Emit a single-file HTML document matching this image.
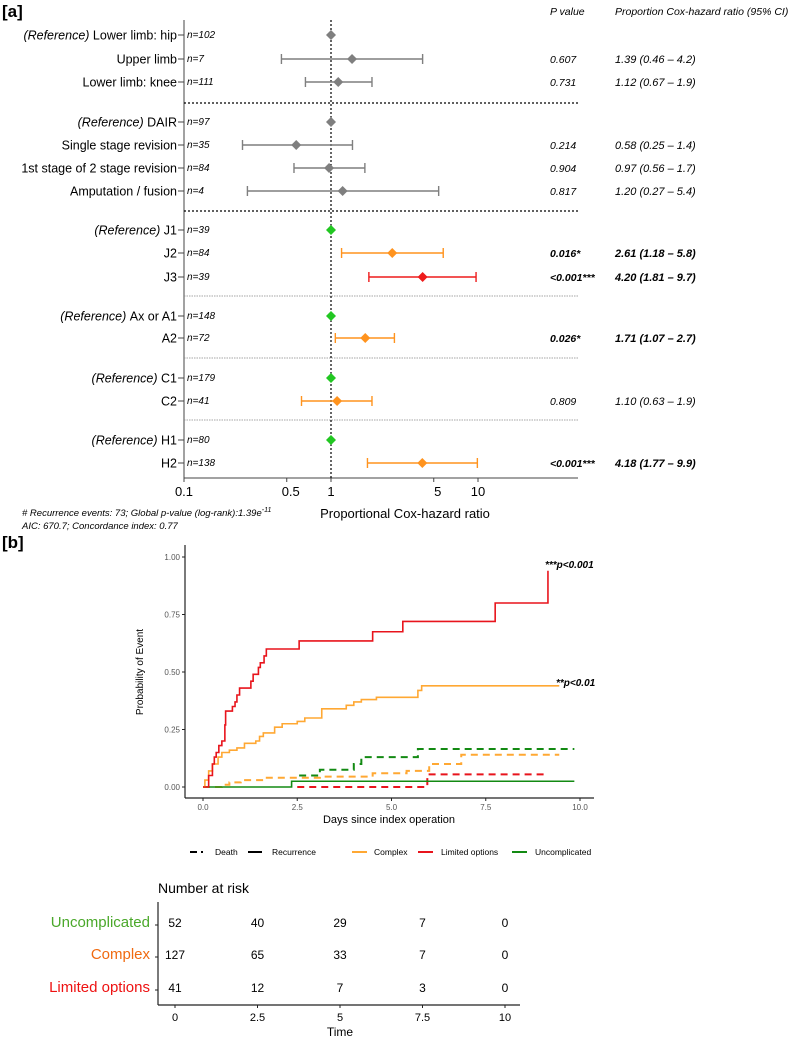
<!DOCTYPE html>
<html><head><meta charset="utf-8">
<style>
html,body{margin:0;padding:0;background:#fff;}
svg{display:block;font-family:"Liberation Sans",Arial,sans-serif;}
</style></head>
<body>
<svg id="fig" width="799" height="1041" viewBox="0 0 799 1041" xmlns="http://www.w3.org/2000/svg">
<text x="2" y="17" font-size="17" font-weight="bold">[a]</text>
<text x="2" y="548" font-size="17" font-weight="bold">[b]</text>
<g id="forest"></g>
<g id="km"></g>
<g id="risk"></g>
</svg>
<script>
// ---------- Forest plot data ----------
const fLabels = ["Lower limb: hip","Upper limb","Lower limb: knee","DAIR","Single stage revision","1st stage of 2 stage revision","Amputation / fusion","J1","J2","J3","Ax or A1","A2","C1","C2","H1","H2"];
const fIsRef = [1,0,0,1,0,0,0,1,0,0,1,0,1,0,1,0];
const fN = [102,7,111,97,35,84,4,39,84,39,148,72,179,41,80,138];
const fHR = [1,1.39,1.12,1,0.58,0.97,1.20,1,2.61,4.20,1,1.71,1,1.10,1,4.18];
const fLo = [null,0.46,0.67,null,0.25,0.56,0.27,null,1.18,1.81,null,1.07,null,0.63,null,1.77];
const fHi = [null,4.2,1.9,null,1.4,1.7,5.4,null,5.8,9.7,null,2.7,null,1.9,null,9.9];
const fP = ["","0.607","0.731","","0.214","0.904","0.817","","0.016*","<0.001***","","0.026*","","0.809","","<0.001***"];
const fCI = ["","1.39 (0.46 – 4.2)","1.12 (0.67 – 1.9)","","0.58 (0.25 – 1.4)","0.97 (0.56 – 1.7)","1.20 (0.27 – 5.4)","","2.61 (1.18 – 5.8)","4.20 (1.81 – 9.7)","","1.71 (1.07 – 2.7)","","1.10 (0.63 – 1.9)","","4.18 (1.77 – 9.9)"];
const fColor = ["g","g","g","g","g","g","g","G","o","r","G","o","G","o","G","o"];
const fBold = [0,0,0,0,0,0,0,0,1,1,0,1,0,0,0,1];
const fTicks = [0.1,0.5,1,5,10];
const fRowY = [35,59,82,122,145,168,191,230,253,277,316,338,378,401,440,463];
const fSeps = [{y:103,dot:true},{y:211,dot:true},{y:296,dot:false},{y:358,dot:false},{y:420,dot:false}];

const NS="http://www.w3.org/2000/svg";
function mk(parent,tag,attrs,txt){const e=document.createElementNS(NS,tag);for(const k in attrs)e.setAttribute(k,attrs[k]);if(txt!==undefined)e.textContent=txt;parent.appendChild(e);return e;}
const colMap={g:"#7f7f7f",G:"#22c722",o:"#ff931e",r:"#ee1c1c"};

(function(){
  const g=document.getElementById('forest');
  const x0=331, dec=147, axL=184, axR=578, axB=478, axT=20;
  const fx=v=>x0+Math.log10(v)*dec;
  let e;
  e=mk(g,'line',{x1:axL,y1:axT,x2:axL,y2:axB,stroke:'#444','stroke-width':1});
  
  e=mk(g,'line',{x1:axL,y1:axB,x2:axR,y2:axB,stroke:'#444','stroke-width':1});
  
  e=mk(g,'line',{x1:fx(1),y1:axT,x2:fx(1),y2:axB,stroke:'#000','stroke-width':1.2,'stroke-dasharray':'2,2'});
  
  fTicks.forEach(t=>{
    const x=(t===0.1)?axL:fx(t);
    mk(g,'line',{x1:x,y1:axB,x2:x,y2:axB+4,stroke:'#444'});
    e=mk(g,'text',{x:x+(t===0.5?4:(t===5?4:0)),y:axB+18,'font-size':13,'text-anchor':'middle'},String(t));
    
  });
  e=mk(g,'text',{x:405,y:518,'font-size':13,'text-anchor':'middle'},'Proportional Cox-hazard ratio');
  
  fSeps.forEach(s=>{
    e=mk(g,'line',{x1:axL,y1:s.y,x2:axR,y2:s.y,stroke:s.dot?'#000':'#888','stroke-width':s.dot?1.3:0.8,'stroke-dasharray':s.dot?'2,2':'1.5,1'});
    
  });
  e=mk(g,'text',{x:550,y:15,'font-size':10.5,'font-style':'italic'},'P value');
  
  e=mk(g,'text',{x:615,y:15,'font-size':10.5,'font-style':'italic'},'Proportion Cox-hazard ratio (95% CI)');
  
  fLabels.forEach((lab,i)=>{
    const y=fRowY[i];
    const t=mk(g,'text',{x:177,y:y+4.5,'font-size':12.5,'text-anchor':'end'});
    
    if(fIsRef[i]){mk(t,'tspan',{'font-style':'italic'},'(Reference) ');}
    mk(t,'tspan',{},lab);
    mk(g,'line',{x1:178,y1:y,x2:axL,y2:y,stroke:'#444'});
    e=mk(g,'text',{x:187,y:y+3,'font-size':10,'font-style':'italic'},'n='+fN[i]);
    
    const c=colMap[fColor[i]];
    if(fLo[i]!==null){
      const xl=fx(fLo[i]),xh=fx(fHi[i]);
      e=mk(g,'line',{x1:xl,y1:y,x2:xh,y2:y,stroke:c,'stroke-width':1.6});
      
      mk(g,'line',{x1:xl,y1:y-5,x2:xl,y2:y+5,stroke:c,'stroke-width':1.4});
      mk(g,'line',{x1:xh,y1:y-5,x2:xh,y2:y+5,stroke:c,'stroke-width':1.4});
    }
    const xc=fx(fHR[i]);
    e=mk(g,'polygon',{points:`${xc},${y-5} ${xc+5},${y} ${xc},${y+5} ${xc-5},${y}`,fill:c});
    
    if(fP[i]){
      e=mk(g,'text',{x:550,y:y+4,'font-size':10.5,'font-style':'italic','font-weight':fBold[i]?'bold':'normal'},fP[i]);
      
      e=mk(g,'text',{x:615,y:y+4,'font-size':11,'font-style':'italic','font-weight':fBold[i]?'bold':'normal'},fCI[i]);
      
    }
  });
  e=mk(g,'text',{x:22,y:516,'font-size':9.5,'font-style':'italic'});
  
  mk(e,'tspan',{},'# Recurrence events: 73; Global p-value (log-rank):1.39e');
  mk(e,'tspan',{'font-size':7,dy:-4},'-11');
  e=mk(g,'text',{x:22,y:529,'font-size':9.5,'font-style':'italic'},'AIC: 670.7; Concordance index: 0.77');
  
})();

// ---------- KM data ----------
const kmYTicks=[0,0.25,0.5,0.75,1.0];
const kmYTickLabels=["0.00","0.25","0.50","0.75","1.00"];
const kmXTicks=[0,2.5,5,7.5,10];
const kmXTickLabels=["0.0","2.5","5.0","7.5","10.0"];
const redRecT=[0,0.1,0.15,0.25,0.3,0.35,0.42,0.5,0.58,0.6,0.78,0.85,0.9,0.97,1.27,1.33,1.47,1.52,1.62,1.68,2.55,4.5,5.3,7.75,9.15,9.15];
const redRecP=[0,0,0.05,0.1,0.13,0.15,0.18,0.2,0.27,0.33,0.35,0.37,0.4,0.43,0.46,0.49,0.52,0.54,0.57,0.6,0.635,0.675,0.72,0.8,0.94,0.94];
const orgRecT=[0,0.05,0.15,0.25,0.4,0.5,0.7,0.9,1.1,1.4,1.5,1.6,1.9,2.1,2.5,2.7,3.15,3.8,4.0,4.2,4.6,5.7,5.8,9.45];
const orgRecP=[0,0.03,0.07,0.1,0.13,0.15,0.16,0.17,0.19,0.2,0.22,0.235,0.26,0.275,0.285,0.3,0.34,0.355,0.37,0.38,0.39,0.42,0.44,0.44];
const grnRecT=[0,2.35,9.85];
const grnRecP=[0,0.025,0.025];
const grnDthT=[2.55,3.1,4.0,4.2,5.7,9.85];
const grnDthP=[0.05,0.075,0.1,0.13,0.165,0.165];
const orgDthT=[0,0.5,0.7,1.0,1.6,3.1,4.5,5.4,6.0,6.85,9.45];
const orgDthP=[0,0.01,0.02,0.03,0.04,0.045,0.06,0.07,0.1,0.14,0.14];
const redDthT=[2.5,5.95,9.1];
const redDthP=[0,0.055,0.055];

(function(){
  const g=document.getElementById('km');
  const X0=203, XU=37.7, Y0=787, YU=230;
  const sx=t=>X0+t*XU, sy=p=>Y0-p*YU;
  let e;
  e=mk(g,'line',{x1:185,y1:545,x2:185,y2:798,stroke:'#222','stroke-width':1.2});
  
  e=mk(g,'line',{x1:185,y1:798,x2:594,y2:798,stroke:'#222','stroke-width':1.2});
  
  kmYTicks.forEach((v,i)=>{
    mk(g,'line',{x1:182,y1:sy(v),x2:185,y2:sy(v),stroke:'#222'});
    e=mk(g,'text',{x:180,y:sy(v)+3,'font-size':8,'text-anchor':'end',fill:'#555'},kmYTickLabels[i]);
    
  });
  kmXTicks.forEach((v,i)=>{
    mk(g,'line',{x1:sx(v),y1:798,x2:sx(v),y2:801,stroke:'#222'});
    e=mk(g,'text',{x:sx(v),y:810,'font-size':8,'text-anchor':'middle',fill:'#555'},kmXTickLabels[i]);
    
  });
  e=mk(g,'text',{x:389,y:823,'font-size':11,'text-anchor':'middle'},'Days since index operation');
  
  e=mk(g,'text',{x:0,y:0,'font-size':10,'text-anchor':'middle',transform:'translate(143,672) rotate(-90)'},'Probability of Event');
  
  function step(T,P,color,dash,name){
    let d=`M${sx(T[0])},${sy(P[0])}`;
    for(let i=1;i<T.length;i++){d+=` H${sx(T[i])} V${sy(P[i])}`;}
    const p=mk(g,'path',{d:d,fill:'none',stroke:color,'stroke-width':dash?2:1.6});
    if(dash)p.setAttribute('stroke-dasharray','7,5');
    
    
  }
  step(grnDthT,grnDthP,'#138a13',true,'uncomplicated-death-curve');
  step(orgDthT,orgDthP,'#ffa833',true,'complex-death-curve');
  step(redDthT,redDthP,'#e8141c',true,'limited-death-curve');
  step(grnRecT,grnRecP,'#138a13',false,'uncomplicated-recurrence-curve');
  step(orgRecT,orgRecP,'#ffa833',false,'complex-recurrence-curve');
  step(redRecT,redRecP,'#e8141c',false,'limited-recurrence-curve');
  e=mk(g,'text',{x:545,y:568,'font-size':10,'font-style':'italic','font-weight':'bold'},'***p<0.001');
  
  e=mk(g,'text',{x:556,y:686,'font-size':10,'font-style':'italic','font-weight':'bold'},'**p<0.01');
  
  // legend
  const L=mk(g,'g',{});
  
  const ly=852;
  mk(L,'line',{x1:190,y1:ly,x2:197,y2:ly,stroke:'#000','stroke-width':2});
  mk(L,'line',{x1:201,y1:ly,x2:203,y2:ly,stroke:'#000','stroke-width':2});
  mk(L,'text',{x:215,y:ly+3,'font-size':8.5},'Death');
  mk(L,'line',{x1:248,y1:ly,x2:262,y2:ly,stroke:'#000','stroke-width':2});
  mk(L,'text',{x:272,y:ly+3,'font-size':8.5},'Recurrence');
  [['Complex','#ffa833',352,374],['Limited options','#e8141c',418,441],['Uncomplicated','#138a13',512,535]].forEach(a=>{
    mk(L,'line',{x1:a[2],y1:ly,x2:a[2]+15,y2:ly,stroke:a[1],'stroke-width':2});
    mk(L,'text',{x:a[3],y:ly+3,'font-size':8.5},a[0]);
  });
})();

// ---------- risk table data ----------
const riskGroups=["Uncomplicated","Complex","Limited options"];
const riskTimes=[0,2.5,5,7.5,10];
const riskUncomp=[52,40,29,7,0];
const riskComplex=[127,65,33,7,0];
const riskLimited=[41,12,7,3,0];
(function(){
  const g=document.getElementById('risk');
  const X0=175, XU=33, rows=[922,954,987], cols=['#4aa82a','#f06a10','#ee1111'];
  const vals=[riskUncomp,riskComplex,riskLimited];
  const rx=t=>X0+t*XU;
  let e;
  e=mk(g,'text',{x:158,y:893,'font-size':14},'Number at risk');
  
  e=mk(g,'line',{x1:158,y1:902,x2:158,y2:1005,stroke:'#222','stroke-width':1.2});
  
  e=mk(g,'line',{x1:158,y1:1005,x2:520,y2:1005,stroke:'#222','stroke-width':1.2});
  
  riskGroups.forEach((name,i)=>{
    e=mk(g,'text',{x:150,y:rows[i]+5,'font-size':15,'text-anchor':'end',fill:cols[i]},name);
    
    mk(g,'line',{x1:155,y1:rows[i]+3,x2:158,y2:rows[i]+3,stroke:'#222'});
    vals[i].forEach((v,j)=>{
      e=mk(g,'text',{x:rx(riskTimes[j]),y:rows[i]+5,'font-size':12,'text-anchor':'middle'},String(v));
      
    });
  });
  riskTimes.forEach(t=>{
    mk(g,'line',{x1:rx(t),y1:1005,x2:rx(t),y2:1008,stroke:'#222'});
    e=mk(g,'text',{x:rx(t),y:1021,'font-size':11,'text-anchor':'middle'},String(t));
    
  });
  e=mk(g,'text',{x:340,y:1036,'font-size':12,'text-anchor':'middle'},'Time');
  
})();
</script>
</body></html>
